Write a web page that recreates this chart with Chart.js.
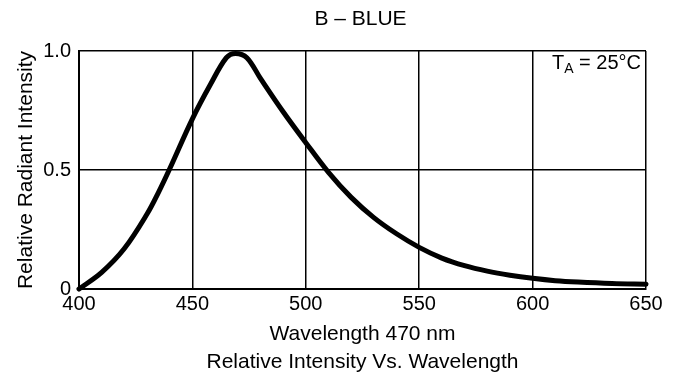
<!DOCTYPE html>
<html>
<head>
<meta charset="utf-8">
<script src="https://cdn.jsdelivr.net/npm/chart.js@4/dist/chart.umd.min.js"></script>
<style>
  html, body { margin: 0; padding: 0; background: #fff; }
  #wrap { width: 682px; height: 376px; position: relative; }
</style>
</head>
<body>
<div id="wrap"><canvas id="chart"></canvas></div>
<script>
// values
const wavelength = [400, 410, 420, 430, 435, 440, 450, 458, 465, 469, 474, 480, 490, 500, 510, 520, 530, 540, 550, 560, 570, 580, 590, 600, 610, 620, 635, 650];
const intensity  = [0, 0.07, 0.17, 0.315, 0.405, 0.505, 0.715, 0.86, 0.972, 0.99, 0.972, 0.885, 0.745, 0.615, 0.49, 0.385, 0.30, 0.232, 0.175, 0.13, 0.098, 0.075, 0.058, 0.045, 0.035, 0.029, 0.023, 0.02];

const xTicks = [400, 450, 500, 550, 600, 650];
const yTicks = [0, 0.5, 1.0];
const yTickLabels = ['0', '0.5', '1.0'];
const chartTitle = 'B – BLUE';

const FONT = '"Liberation Sans", Arial, Helvetica, sans-serif';
Chart.defaults.font.family = FONT;
Chart.defaults.color = '#000';

// white page, the title over the plot and the T_A note in its top right corner
const notes = {
  id: 'notes',
  beforeDraw(chart) {
    const c = chart.ctx;
    c.save();
    c.fillStyle = '#fff';
    c.fillRect(0, 0, chart.width, chart.height);
    c.restore();
  },
  afterDraw(chart) {
    const c = chart.ctx, a = chart.chartArea;
    c.save();
    c.fillStyle = '#000';
    c.font = '21px ' + FONT;
    c.textAlign = 'center';
    c.textBaseline = 'middle';
    c.fillText(chartTitle, (a.left + a.right) / 2 - 2, 19);

    c.textAlign = 'left';
    c.textBaseline = 'alphabetic';
    const base = a.top + 18;
    c.font = '20px ' + FONT;
    const rest = ' = 25°C';
    const wRest = c.measureText(rest).width;
    const wT = c.measureText('T').width;
    c.font = '14px ' + FONT;
    const wSub = c.measureText('A').width;
    let x = a.right - 5 - wRest - wSub - wT;
    c.font = '20px ' + FONT;
    c.fillText('T', x, base);
    x += wT;
    c.font = '14px ' + FONT;
    c.fillText('A', x, base + 4);
    x += wSub;
    c.font = '20px ' + FONT;
    c.fillText(rest, x, base);
    c.restore();
  }
};

new Chart(document.getElementById('chart'), {
  type: 'line',
  data: {
    datasets: [{
      data: wavelength.map((w, i) => ({ x: w, y: intensity[i] })),
      borderColor: '#000',
      borderWidth: 5,
      borderCapStyle: 'round',
      borderJoinStyle: 'round',
      pointRadius: 0,
      tension: 0.35,
      fill: false,
      clip: false
    }]
  },
  options: {
    responsive: true,
    maintainAspectRatio: false,
    animation: false,
    layout: { padding: { left: 0, right: 36, top: 51, bottom: 0 } },
    plugins: {
      legend: { display: false },
      tooltip: { enabled: false },
      title: { display: false }
    },
    scales: {
      x: {
        type: 'linear',
        min: 400, max: 650,
        afterBuildTicks: s => { s.ticks = xTicks.map(v => ({ value: v })); },
        afterFit: s => { s.height = 87; },
        ticks: { font: { size: 20 }, padding: 3, maxRotation: 0, color: '#000' },
        grid: { color: '#000', lineWidth: 1.5, drawTicks: false },
        border: { color: '#000', width: 2 },
        title: {
          display: true,
          text: ['Wavelength 470 nm', 'Relative Intensity Vs. Wavelength'],
          font: { size: 21, lineHeight: 1.333 },
          padding: { top: 0, bottom: 0 },
          color: '#000'
        }
      },
      y: {
        min: 0, max: 1,
        afterBuildTicks: s => { s.ticks = yTicks.map(v => ({ value: v })); },
        afterFit: s => { s.width = 79; },
        ticks: {
          font: { size: 20 }, padding: 8, color: '#000',
          callback: v => { const i = yTicks.indexOf(v); return i >= 0 ? yTickLabels[i] : ''; }
        },
        grid: { color: '#000', lineWidth: 1.5, drawTicks: false },
        border: { color: '#000', width: 2 },
        title: {
          display: true,
          text: 'Relative Radiant Intensity',
          font: { size: 21, lineHeight: 1.2 },
          padding: { top: 14, bottom: 0 },
          color: '#000'
        }
      }
    }
  },
  plugins: [notes]
});
</script>
</body>
</html>
